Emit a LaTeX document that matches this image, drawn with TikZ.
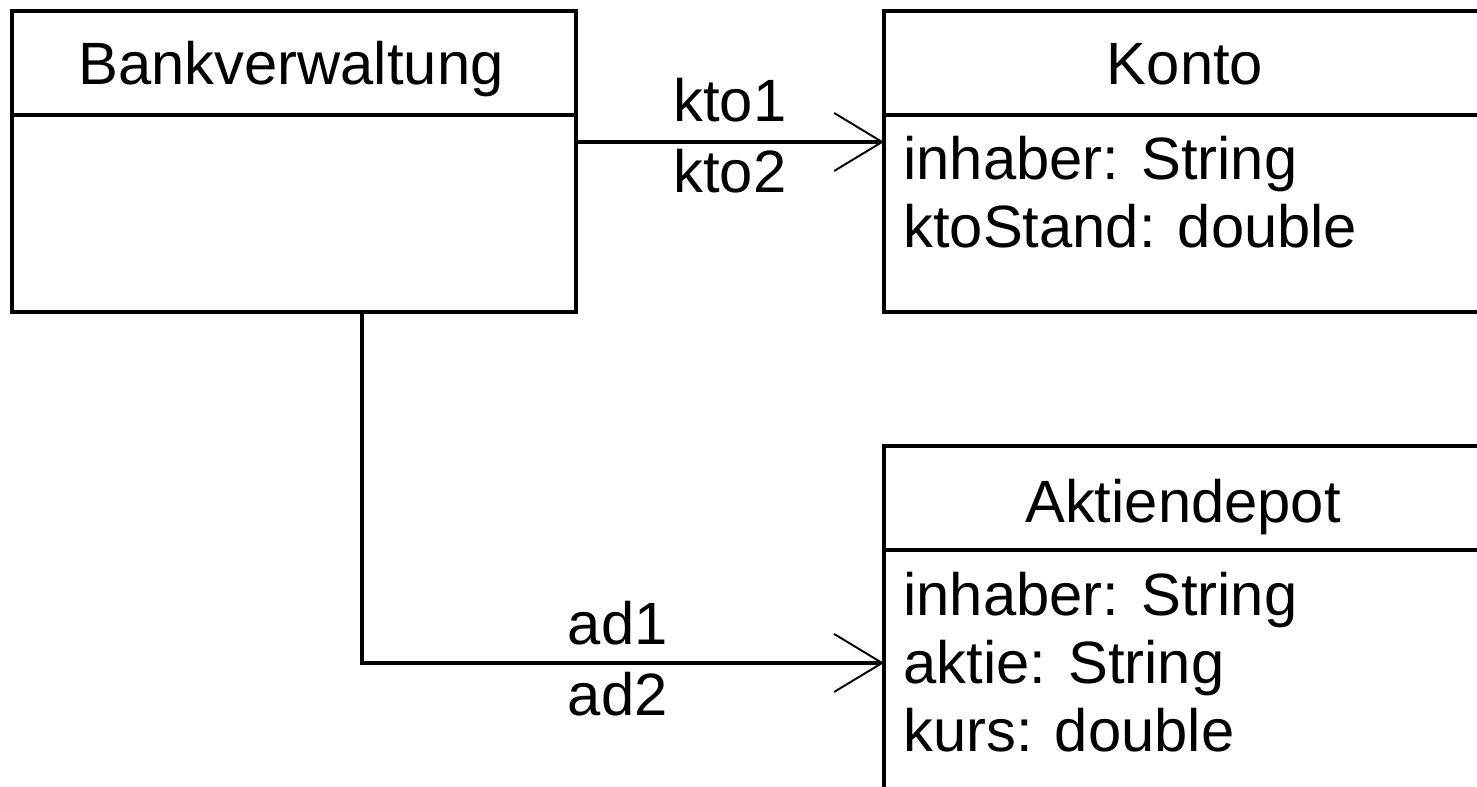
\documentclass[tikz,border=0pt]{standalone}
\usepackage{fontspec}
\setmainfont{Liberation Sans}
\usetikzlibrary{arrows.meta,positioning}

\begin{document}
\begin{tikzpicture}[x=0.02cm,y=-0.02cm,
        font=\fontsize{34pt}{40pt}\selectfont,
        classbox/.style={draw,line width=1.9pt,inner sep=0pt,outer sep=0pt,anchor=north west},
        attr/.style={anchor=base west,inner sep=0pt},
        assoc/.style={line width=1.9pt,-{Straight Barb[length=0.96cm,width=1.16cm,line width=1.1pt]}}]
        \useasboundingbox (0,0) rectangle (1477,787);
        \clip (0,0) rectangle (1477,787);
        \node[classbox,minimum width=11.28cm,minimum height=6.02cm] (Bank) at (12,11) {};
        \node[classbox,minimum width=12cm,minimum height=6.02cm] (Konto) at (884,11) {};
        \node[classbox,minimum width=12cm,minimum height=8.68cm] (Depot) at (884,446) {};
        \foreach \c in {Bank,Konto,Depot}
            \draw[line width=1.9pt] ([yshift=-2.08cm]\c.north west) -- ([yshift=-2.08cm]\c.north east);
        \node[anchor=base] (BankName) at (291,85) {Bankverwaltung};
        \node[anchor=base] (KontoName) at (1185,85) {Konto};
        \node[anchor=base] (DepotName) at (1183,522) {Aktiendepot};
        \node[attr] (KontoA) at (903,180) {inhaber: String};
        \node[attr] (KontoB) at (903,248) {ktoStand: double};
        \node[attr] (DepotA) at (903,615) {inhaber: String};
        \node[attr] (DepotB) at (903,683) {aktie: String};
        \node[attr] (DepotC) at (903,751) {kurs: double};
        \draw[assoc] ([yshift=0.39cm]Bank.east)--([yshift=0.39cm]Konto.west)
            node[midway,anchor=base,yshift=0.4cm] (kto1) {kto1}
            node[midway,anchor=base,yshift=-1.02cm] (kto2) {kto2};
        \draw[assoc] ([xshift=1.36cm]Bank.south) |- (Depot.west)
            node[pos=0.745,anchor=base,yshift=0.36cm] (ad1) {ad1}
            node[pos=0.745,anchor=base,yshift=-1.06cm] (ad2) {ad2};
    \end{tikzpicture}
\end{document}
